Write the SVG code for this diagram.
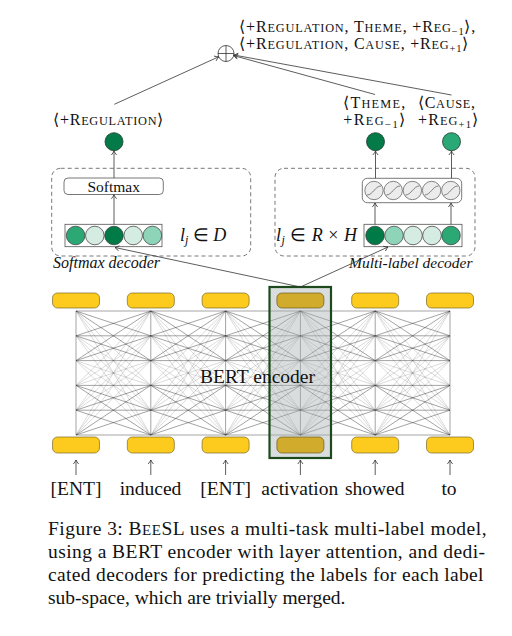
<svg xmlns="http://www.w3.org/2000/svg" xmlns:xlink="http://www.w3.org/1999/xlink" width="512" height="636" viewBox="0 0 512 636" font-family="Liberation Serif">
<style>
text{fill:#111}
.it{font-style:italic}
.tok{fill:#fdca1e;stroke:#7a6a2a;stroke-width:0.7}
.tokh{fill:#d1ab2b;stroke:#6a5a20;stroke-width:0.7}
.dk{stroke:#222;stroke-width:0.75;stroke-opacity:0.55}
.lt{stroke:#222;stroke-width:0.65;stroke-opacity:0.26}
.vt{stroke:#444;stroke-width:0.7;stroke-opacity:0.7}
.ar{stroke:#333;stroke-width:0.8;fill:none;marker-end:url(#ah)}
.dash{fill:none;stroke:#555;stroke-width:0.8;stroke-dasharray:4 3}
.box{fill:#fff;stroke:#555;stroke-width:0.8}
.out{stroke:#1c3a2a;stroke-width:0.8}
</style>
<defs>
<marker id="ah" viewBox="-5 -4 6 8" refX="0" refY="0" markerWidth="6" markerHeight="8" orient="auto" markerUnits="userSpaceOnUse">
<path d="M-4,-2.6 Q-1.5,-0.6 0,0 Q-1.5,0.6 -4,2.6" fill="none" stroke="#333" stroke-width="0.8"/>
</marker>
<g id="gap">
<line class="dk" x1="0" y1="311" x2="74.8" y2="311"/>
<line class="dk" x1="0" y1="311" x2="74.8" y2="335.8"/>
<line class="dk" x1="0" y1="311" x2="74.8" y2="360.6"/>
<line class="lt" x1="0" y1="311" x2="74.8" y2="385.4"/>
<line class="lt" x1="0" y1="311" x2="74.8" y2="410.2"/>
<line class="lt" x1="0" y1="311" x2="74.8" y2="435"/>
<line class="dk" x1="0" y1="335.8" x2="74.8" y2="311"/>
<line class="dk" x1="0" y1="335.8" x2="74.8" y2="335.8"/>
<line class="dk" x1="0" y1="335.8" x2="74.8" y2="360.6"/>
<line class="lt" x1="0" y1="335.8" x2="74.8" y2="385.4"/>
<line class="lt" x1="0" y1="335.8" x2="74.8" y2="410.2"/>
<line class="lt" x1="0" y1="335.8" x2="74.8" y2="435"/>
<line class="dk" x1="0" y1="360.6" x2="74.8" y2="311"/>
<line class="dk" x1="0" y1="360.6" x2="74.8" y2="335.8"/>
<line class="dk" x1="0" y1="360.6" x2="74.8" y2="360.6"/>
<line class="lt" x1="0" y1="360.6" x2="74.8" y2="385.4"/>
<line class="lt" x1="0" y1="360.6" x2="74.8" y2="410.2"/>
<line class="lt" x1="0" y1="360.6" x2="74.8" y2="435"/>
<line class="lt" x1="0" y1="385.4" x2="74.8" y2="311"/>
<line class="lt" x1="0" y1="385.4" x2="74.8" y2="335.8"/>
<line class="lt" x1="0" y1="385.4" x2="74.8" y2="360.6"/>
<line class="dk" x1="0" y1="385.4" x2="74.8" y2="385.4"/>
<line class="dk" x1="0" y1="385.4" x2="74.8" y2="410.2"/>
<line class="dk" x1="0" y1="385.4" x2="74.8" y2="435"/>
<line class="lt" x1="0" y1="410.2" x2="74.8" y2="311"/>
<line class="lt" x1="0" y1="410.2" x2="74.8" y2="335.8"/>
<line class="lt" x1="0" y1="410.2" x2="74.8" y2="360.6"/>
<line class="dk" x1="0" y1="410.2" x2="74.8" y2="385.4"/>
<line class="dk" x1="0" y1="410.2" x2="74.8" y2="410.2"/>
<line class="dk" x1="0" y1="410.2" x2="74.8" y2="435"/>
<line class="lt" x1="0" y1="435" x2="74.8" y2="311"/>
<line class="lt" x1="0" y1="435" x2="74.8" y2="335.8"/>
<line class="lt" x1="0" y1="435" x2="74.8" y2="360.6"/>
<line class="dk" x1="0" y1="435" x2="74.8" y2="385.4"/>
<line class="dk" x1="0" y1="435" x2="74.8" y2="410.2"/>
<line class="dk" x1="0" y1="435" x2="74.8" y2="435"/>
</g>
<g id="sig">
<circle r="9.2" fill="#ececec" stroke="#555" stroke-width="0.7"/>
<path d="M-7,4.5 C-1,4.5 1,-4.5 7,-4.5" fill="none" stroke="#555" stroke-width="0.7"/>
</g>
</defs>
<rect width="512" height="636" fill="#fff"/>

<!-- encoder connections -->
<g id="encoder-lines">
<use xlink:href="#gap" x="76"/>
<use xlink:href="#gap" x="150.8"/>
<use xlink:href="#gap" x="225.6"/>
<use xlink:href="#gap" x="300.4"/>
<use xlink:href="#gap" x="375.2"/>
<line class="vt" x1="76" y1="311" x2="76" y2="435"/>
<line class="vt" x1="150.8" y1="311" x2="150.8" y2="435"/>
<line class="vt" x1="225.6" y1="311" x2="225.6" y2="435"/>
<line class="vt" x1="300.4" y1="311" x2="300.4" y2="435"/>
<line class="vt" x1="375.2" y1="311" x2="375.2" y2="435"/>
<line class="vt" x1="450" y1="311" x2="450" y2="435"/>
</g>

<g id="highlight">
<rect x="269.5" y="287" width="61.5" height="171" fill="#a4aeae" fill-opacity="0.42"/>
</g>

<g id="tokens-top">
<rect class="tok" x="52.5" y="293" width="47" height="15" rx="5"/>
<rect class="tok" x="127.3" y="293" width="47" height="15" rx="5"/>
<rect class="tok" x="202.1" y="293" width="47" height="15" rx="5"/>
<rect class="tokh" x="276.9" y="293" width="47" height="15" rx="5"/>
<rect class="tok" x="351.7" y="293" width="47" height="15" rx="5"/>
<rect class="tok" x="426.5" y="293" width="47" height="15" rx="5"/>
</g>
<g id="tokens-bottom">
<rect class="tok" x="52.5" y="437" width="47" height="16" rx="5"/>
<rect class="tok" x="127.3" y="437" width="47" height="16" rx="5"/>
<rect class="tok" x="202.1" y="437" width="47" height="16" rx="5"/>
<rect class="tokh" x="276.9" y="437" width="47" height="16" rx="5"/>
<rect class="tok" x="351.7" y="437" width="47" height="16" rx="5"/>
<rect class="tok" x="426.5" y="437" width="47" height="16" rx="5"/>
</g>
<rect x="269.5" y="287" width="61.5" height="171" fill="none" stroke="#1d4a1d" stroke-width="2.2"/>
<text x="257.5" y="383" font-size="19.5" text-anchor="middle">BERT encoder</text>

<!-- input words -->
<g id="inputs">
<line class="ar" x1="76" y1="475" x2="76" y2="460"/>
<line class="ar" x1="150.8" y1="475" x2="150.8" y2="460"/>
<line class="ar" x1="225.6" y1="475" x2="225.6" y2="460"/>
<line class="ar" x1="300.4" y1="475" x2="300.4" y2="460"/>
<line class="ar" x1="375.2" y1="475" x2="375.2" y2="460"/>
<line class="ar" x1="450" y1="475" x2="450" y2="460"/>
<text x="76" y="495" font-size="19.5" text-anchor="middle">[ENT]</text>
<text x="150.5" y="495" font-size="19.5" text-anchor="middle">induced</text>
<text x="225.6" y="495" font-size="19.5" text-anchor="middle">[ENT]</text>
<text x="299.8" y="495" font-size="19.5" text-anchor="middle">activation</text>
<text x="374.7" y="495" font-size="19.5" text-anchor="middle">showed</text>
<text x="449" y="495" font-size="19.5" text-anchor="middle">to</text>
</g>

<!-- softmax decoder -->
<g id="softmax-decoder">
<rect class="dash" x="51.7" y="168.3" width="199" height="87.7" rx="9"/>
<rect class="box" x="64" y="178" width="99.3" height="16.5" rx="4"/>
<text x="113.7" y="191.5" font-size="15.5" text-anchor="middle">Softmax</text>
<rect class="box" x="65" y="224.3" width="97" height="22.4"/>
<circle cx="75.6" cy="235.5" r="9.3" fill="#2ba874" stroke="#333" stroke-width="0.7"/>
<circle cx="94.8" cy="235.5" r="9.3" fill="#d5ece3" stroke="#333" stroke-width="0.7"/>
<circle cx="114" cy="235.5" r="9.3" fill="#007a47" stroke="#333" stroke-width="0.7"/>
<circle cx="133.2" cy="235.5" r="9.3" fill="#d5ece3" stroke="#333" stroke-width="0.7"/>
<circle cx="152.4" cy="235.5" r="9.3" fill="#8dd4b8" stroke="#333" stroke-width="0.7"/>
<text x="180" y="240.5" font-size="18"><tspan class="it">l</tspan><tspan class="it" font-size="12" dy="3.5">j</tspan><tspan dy="-3.5"> ∈ </tspan><tspan class="it">D</tspan></text>
<text x="53" y="268" font-size="16" class="it">Softmax decoder</text>
<circle class="out" cx="114" cy="141.7" r="9" fill="#037a48"/>
<text x="108.3" y="125" font-size="16" text-anchor="middle" textLength="110" lengthAdjust="spacing">⟨+R<tspan font-size="12.3">EGULATION</tspan>⟩</text>
</g>

<!-- multi-label decoder -->
<g id="multilabel-decoder">
<rect class="dash" x="275" y="168.3" width="200" height="87.7" rx="9"/>
<rect class="box" x="362.3" y="178.3" width="99.4" height="24.4" rx="5"/>
<use xlink:href="#sig" x="374" y="190.5"/>
<use xlink:href="#sig" x="393.2" y="190.5"/>
<use xlink:href="#sig" x="412.4" y="190.5"/>
<use xlink:href="#sig" x="431.6" y="190.5"/>
<use xlink:href="#sig" x="450.8" y="190.5"/>
<rect class="box" x="364" y="224.3" width="98" height="22.4"/>
<circle cx="375" cy="235.5" r="9.3" fill="#007a47" stroke="#333" stroke-width="0.7"/>
<circle cx="394" cy="235.5" r="9.3" fill="#8dd4b8" stroke="#333" stroke-width="0.7"/>
<circle cx="413" cy="235.5" r="9.3" fill="#d5ece3" stroke="#333" stroke-width="0.7"/>
<circle cx="432" cy="235.5" r="9.3" fill="#d5ece3" stroke="#333" stroke-width="0.7"/>
<circle cx="451" cy="235.5" r="9.3" fill="#2ba874" stroke="#333" stroke-width="0.7"/>
<text x="276" y="240.5" font-size="18" textLength="81" lengthAdjust="spacing"><tspan class="it">l</tspan><tspan class="it" font-size="12" dy="3.5">j</tspan><tspan dy="-3.5"> ∈ </tspan><tspan class="it">R</tspan><tspan> × </tspan><tspan class="it">H</tspan></text>
<text x="349" y="268" font-size="15.5" class="it">Multi-label decoder</text>
<circle class="out" cx="375.5" cy="141.7" r="9" fill="#037a48"/>
<circle class="out" cx="451.5" cy="141.7" r="9" fill="#2aa876"/>
<text x="374.2" y="108.3" font-size="16" text-anchor="middle" textLength="62" lengthAdjust="spacing">⟨T<tspan font-size="12.3">HEME</tspan>,</text>
<text x="374.2" y="125" font-size="16" text-anchor="middle" textLength="62" lengthAdjust="spacing">+R<tspan font-size="12.3">EG</tspan><tspan font-size="10.5" dy="3">−1</tspan><tspan dy="-3">⟩</tspan></text>
<text x="446.5" y="108.3" font-size="16" text-anchor="middle" textLength="57" lengthAdjust="spacing">⟨C<tspan font-size="12.3">AUSE</tspan>,</text>
<text x="448" y="125" font-size="16" text-anchor="middle" textLength="60" lengthAdjust="spacing">+R<tspan font-size="12.3">EG</tspan><tspan font-size="10.5" dy="3">+1</tspan><tspan dy="-3">⟩</tspan></text>
</g>

<!-- merge node -->
<g id="merge">
<circle cx="226" cy="53.5" r="8" fill="#fff" stroke="#333" stroke-width="0.8"/>
<line x1="218" y1="53.5" x2="234" y2="53.5" stroke="#333" stroke-width="0.8"/>
<line x1="226" y1="45.5" x2="226" y2="61.5" stroke="#333" stroke-width="0.8"/>
<text x="239.3" y="31.5" font-size="16" textLength="236" lengthAdjust="spacing">⟨+R<tspan font-size="12.3">EGULATION</tspan>, T<tspan font-size="12.3">HEME</tspan>, +R<tspan font-size="12.3">EG</tspan><tspan font-size="10.5" dy="3">−1</tspan><tspan dy="-3">⟩,</tspan></text>
<text x="239.3" y="48.5" font-size="16" textLength="229" lengthAdjust="spacing">⟨+R<tspan font-size="12.3">EGULATION</tspan>, C<tspan font-size="12.3">AUSE</tspan>, +R<tspan font-size="12.3">EG</tspan><tspan font-size="10.5" dy="3">+1</tspan><tspan dy="-3">⟩</tspan></text>
</g>

<!-- connectors -->
<g id="connectors">
<line class="ar" x1="114" y1="224.3" x2="114" y2="194.8"/>
<line class="ar" x1="114" y1="178" x2="114" y2="151"/>
<line class="ar" x1="375" y1="224.3" x2="375" y2="203"/>
<line class="ar" x1="451" y1="224.3" x2="451" y2="203"/>
<line class="ar" x1="375.5" y1="178.3" x2="375.5" y2="151"/>
<line class="ar" x1="451.5" y1="178.3" x2="451.5" y2="151"/>
<line class="ar" x1="300.4" y1="287" x2="115" y2="247.5"/>
<line class="ar" x1="300.4" y1="287" x2="388" y2="247"/>
<line class="ar" x1="114.3" y1="104.3" x2="218.7" y2="56.8"/>
<line class="ar" x1="375" y1="94.5" x2="233.7" y2="55.6"/>
<line class="ar" x1="451.5" y1="95" x2="233.9" y2="55"/>
</g>

<!-- caption -->
<g id="caption">
<text x="48" y="535" font-size="19.5" textLength="438.5" lengthAdjust="spacing">Figure 3: B<tspan font-size="15">EE</tspan>SL uses a multi-task multi-label model,</text>
<text x="48" y="558" font-size="19.5" textLength="437" lengthAdjust="spacing">using a BERT encoder with layer attention, and dedi-</text>
<text x="48" y="581" font-size="19.5" textLength="435.5" lengthAdjust="spacing">cated decoders for predicting the labels for each label</text>
<text x="48" y="604" font-size="19.5">sub-space, which are trivially merged.</text>
</g>
</svg>
